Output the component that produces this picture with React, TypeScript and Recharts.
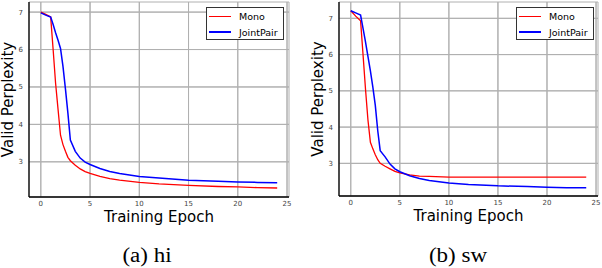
import React from 'react';
import { CartesianGrid, Line, LineChart, ReferenceLine, XAxis, YAxis } from 'recharts';

const epochs = [0, 0.5, 1, 1.25, 1.5, 1.75, 2, 2.25, 2.5, 2.75, 3, 3.5, 4, 4.5, 5, 6, 7, 8, 10, 12, 15, 18, 20, 22, 24];

const hiMono = [7.0, 6.94, 6.87, 6.0, 5.1, 4.4, 3.71, 3.46, 3.28, 3.12, 3.03, 2.91, 2.81, 2.74, 2.69, 2.61, 2.55, 2.51, 2.45, 2.41, 2.37, 2.34, 2.33, 2.31, 2.3];
const hiJoint = [6.98, 6.92, 6.87, 6.67, 6.45, 6.25, 6.03, 5.55, 4.95, 4.3, 3.58, 3.28, 3.1, 2.99, 2.93, 2.82, 2.74, 2.69, 2.61, 2.57, 2.51, 2.48, 2.46, 2.45, 2.44];

const swMono = [7.21, 7.06, 6.93, 6.0, 5.05, 4.2, 3.58, 3.4, 3.24, 3.1, 3.0, 2.92, 2.85, 2.78, 2.74, 2.68, 2.65, 2.64, 2.62, 2.62, 2.62, 2.62, 2.62, 2.62, 2.62];
const swJoint = [7.21, 7.15, 7.09, 6.72, 6.35, 5.95, 5.55, 5.1, 4.6, 3.9, 3.35, 3.18, 2.98, 2.85, 2.77, 2.66, 2.58, 2.53, 2.46, 2.42, 2.38, 2.36, 2.34, 2.33, 2.33];

const xTicks = [0, 5, 10, 15, 20, 25];
const yTicks = [3, 4, 5, 6, 7];
const seriesNames = ['Mono', 'JointPair'];
const captions = ['(a) hi', '(b) sw'];

const sans = 'DejaVu Sans, sans-serif';
const frame = { stroke: '#000', strokeWidth: 1.3 };
const gridColor = '#b0b0b0';

function YTitle(props: any) {
  const vb = props.viewBox ?? { x: 0, y: 0, width: 0, height: 0 };
  const x = vb.x + vb.width - 21;
  const y = vb.y + vb.height / 2;
  return (
    <text x={x} y={y} transform={`rotate(-90 ${x} ${y})`} textAnchor="middle" dominantBaseline="central"
      fontFamily={sans} fontSize={15} fill="#000">
      Valid Perplexity
    </text>
  );
}

function Panel({ mono, joint, yDomain, width, yWidth, right, bottom }: any) {
  const data = epochs.map((epoch, i) => ({ epoch, mono: mono[i], joint: joint[i] }));
  return (
    <LineChart width={width} height={240} data={data} margin={{ top: 2, right, left: 0, bottom }}>
      <CartesianGrid stroke={gridColor} />
      <XAxis dataKey="epoch" type="number" domain={[-1.2, 25.2]} ticks={xTicks} allowDataOverflow
        height={30} axisLine={frame} tickLine={false} tickSize={3} tickMargin={1}
        tick={{ fontSize: 7, fill: '#444', fontFamily: sans }}
        label={{ value: 'Training Epoch', position: 'insideBottom', offset: 5, fontSize: 15, fill: '#000', fontFamily: sans }} />
      <XAxis xAxisId="top" orientation="top" type="number" domain={[-1.2, 25.2]} allowDataOverflow
        height={0} axisLine={frame} tick={false} tickLine={false} />
      <YAxis type="number" domain={yDomain} ticks={yTicks} allowDataOverflow width={yWidth}
        axisLine={frame} tickLine={false} tickSize={3} tickMargin={3}
        tick={{ fontSize: 7, fill: '#444', fontFamily: sans }} label={<YTitle />} />
      <YAxis yAxisId="right" orientation="right" type="number" domain={yDomain} allowDataOverflow
        width={0} axisLine={frame} tick={false} tickLine={false} />
      {xTicks.map((t) => (
        <ReferenceLine key={`x${t}`} x={t} stroke={gridColor} strokeWidth={1} />
      ))}
      {yTicks.map((t) => (
        <ReferenceLine key={`y${t}`} y={t} stroke={gridColor} strokeWidth={1} />
      ))}
      <Line dataKey="mono" type="linear" stroke="#ff0000" strokeWidth={1.3} dot={false} isAnimationActive={false} />
      <Line dataKey="joint" type="linear" stroke="#0000ff" strokeWidth={1.5} dot={false} isAnimationActive={false} />
    </LineChart>
  );
}

function LegendBox({ left }: { left: number }) {
  return (
    <div style={{ position: 'absolute', left, top: 7, width: 76, height: 31, border: '1px solid #333', background: '#fff',
      fontFamily: sans, fontSize: 9.5, color: '#000' }}>
      {seriesNames.map((name, i) => (
        <div key={name} style={{ position: 'absolute', left: 2, top: 2 + i * 16, height: 12, display: 'flex', alignItems: 'center' }}>
          <div style={{ width: 22, height: i === 0 ? 1 : 2.5, background: i === 0 ? '#ff0000' : '#0000ff' }} />
          <span style={{ marginLeft: 8 }}>{name}</span>
        </div>
      ))}
    </div>
  );
}

export default function App() {
  return (
    <div style={{ position: 'absolute', left: 0, top: 0, width: 602, height: 268, background: '#fff', overflow: 'hidden' }}>
      <div style={{ position: 'absolute', left: 0, top: 0 }}>
        <Panel mono={hiMono} joint={hiJoint} yDomain={[2.06, 7.27]} width={300} yWidth={29} right={11} bottom={13} />
      </div>
      <div style={{ position: 'absolute', left: 300, top: 0 }}>
        <Panel mono={swMono} joint={swJoint} yDomain={[2.1, 7.45]} width={302} yWidth={39} right={4} bottom={14} />
      </div>
      <LegendBox left={206} />
      <LegendBox left={516} />
      {captions.map((c, i) => (
        <div key={c} style={{ position: 'absolute', left: i === 0 ? 97 : 408, top: 245, width: 100, textAlign: 'center',
          fontFamily: "'Liberation Serif', 'Times New Roman', serif", fontSize: 20, lineHeight: '20px', transform: 'scaleX(1.15)' }}>
          {c}
        </div>
      ))}
    </div>
  );
}
